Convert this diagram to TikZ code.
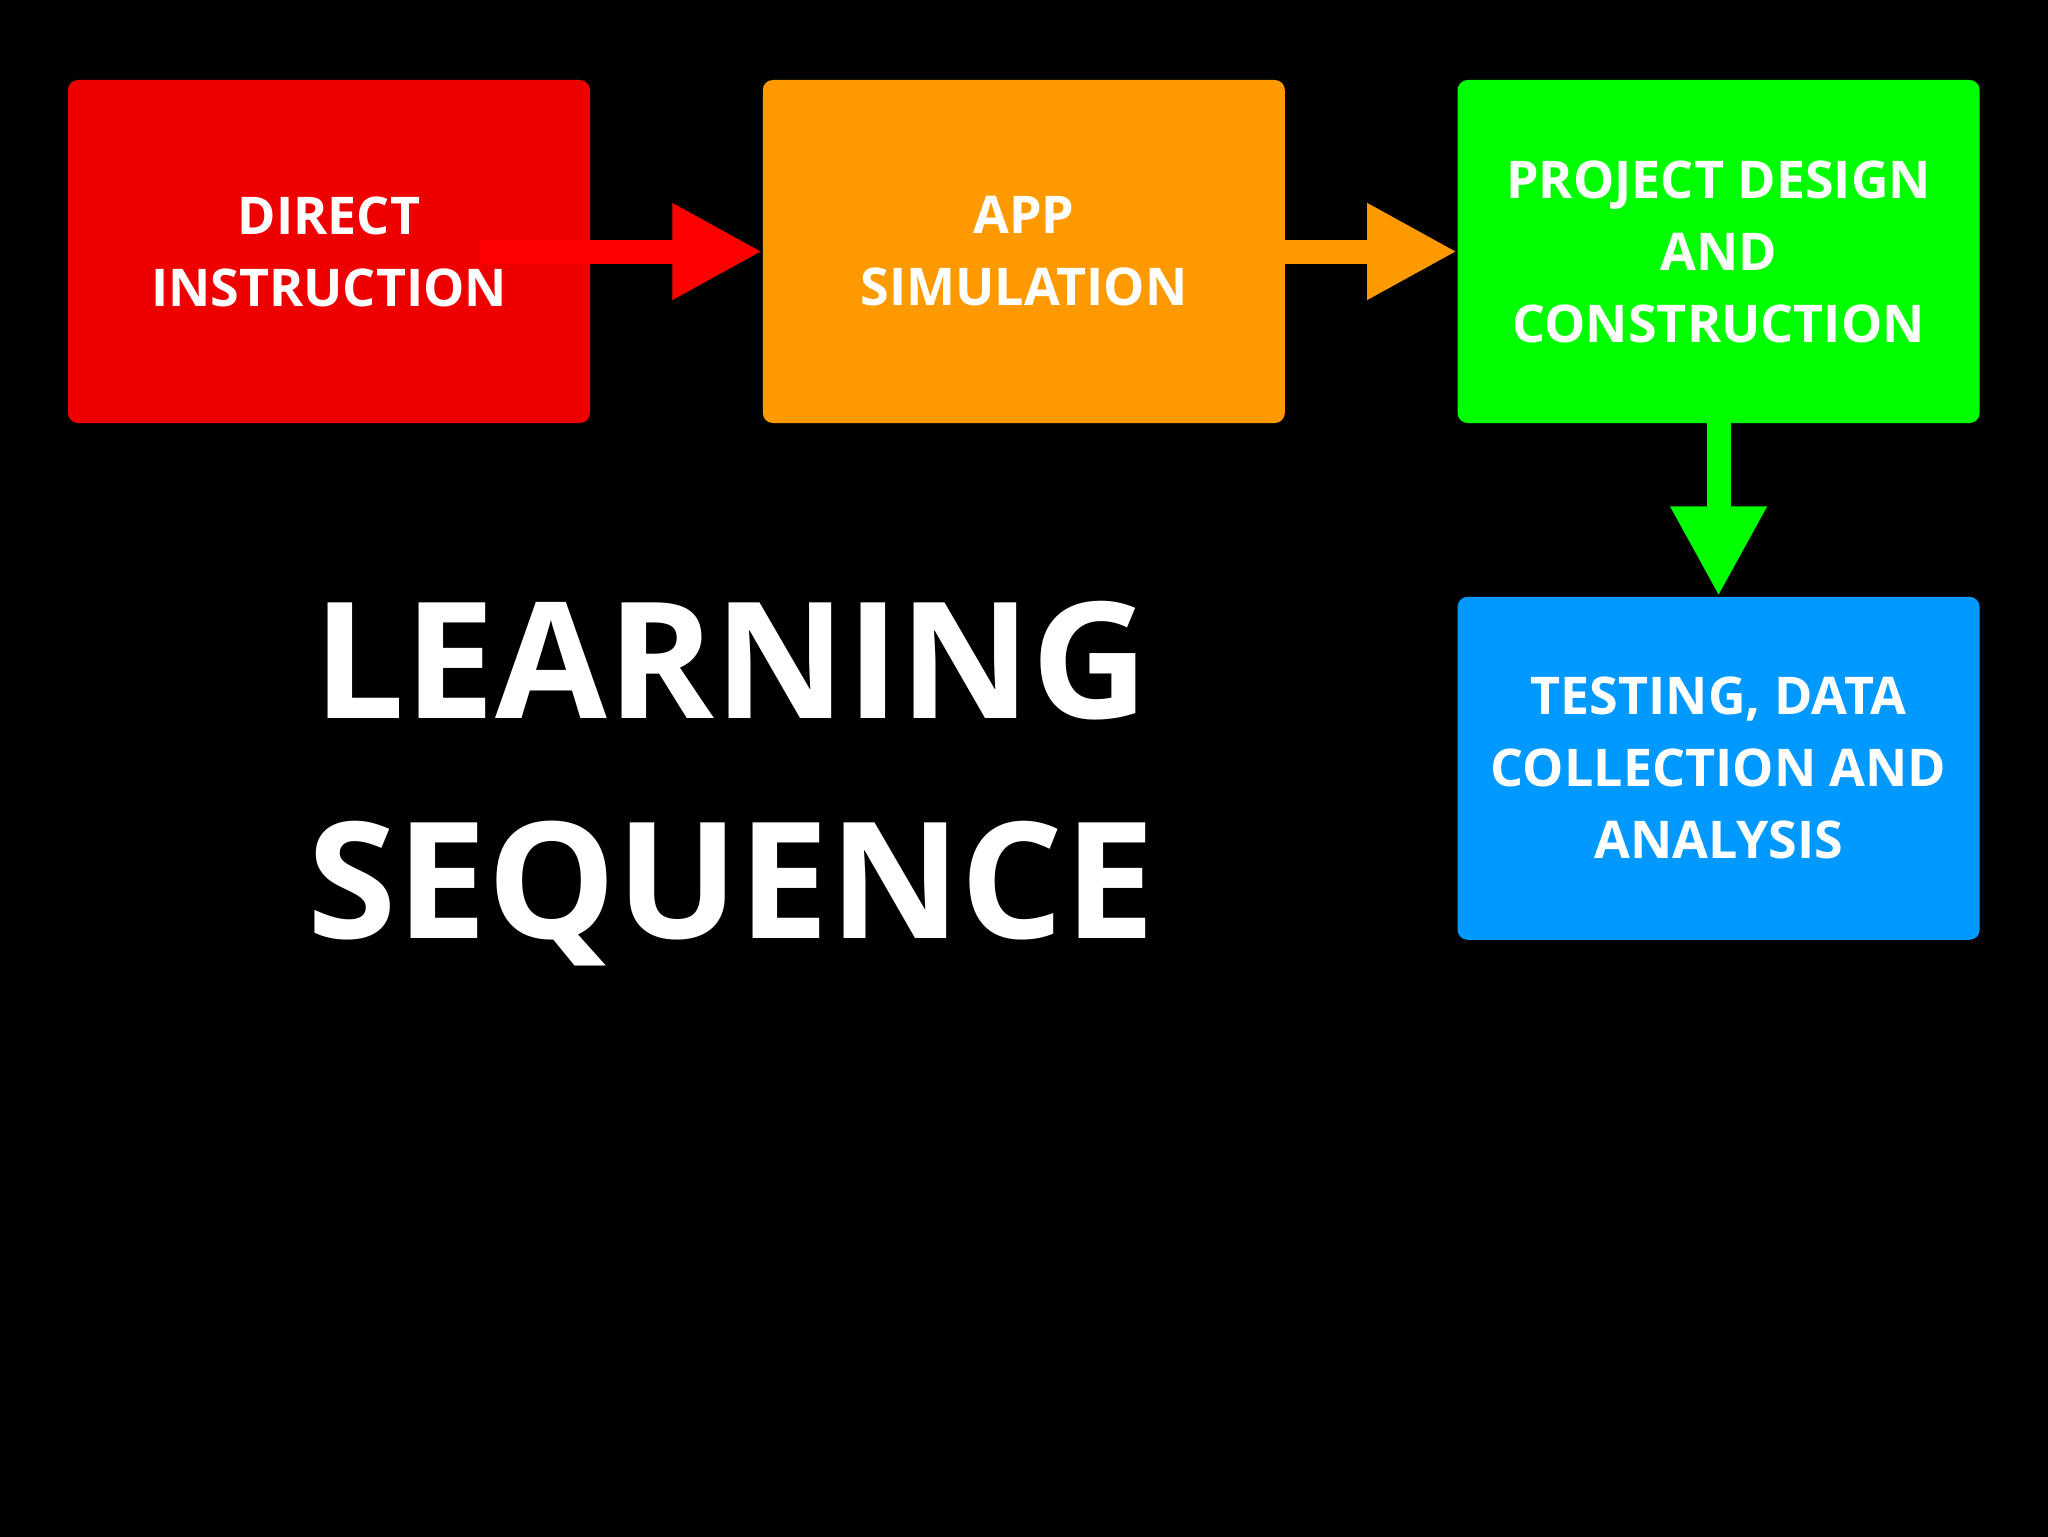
\documentclass[tikz,border=0pt]{standalone}
\usepackage{fontspec}
\setmainfont{Open Sans}
\usepackage{xcolor}
\usepackage{tikz}
\usetikzlibrary{positioning,arrows.meta}

\definecolor{dirred}{HTML}{EE0000}
\definecolor{arrred}{HTML}{FF0000}
\definecolor{apporange}{HTML}{FF9900}
\definecolor{projgreen}{HTML}{00FF00}
\definecolor{testblue}{HTML}{0099FF}

\begin{document}
\begin{tikzpicture}[
    node distance=86.5pt and 86pt,
    box/.style={rounded corners=5pt, minimum width=261pt, minimum height=171.5pt,
                inner sep=0pt, align=center, text=white,
                font=\fontsize{26}{36}\selectfont\bfseries},
    arr/.style={-{Triangle[length=45pt,width=45pt]}, line width=12pt},
  ]
  \useasboundingbox (0,0) rectangle (1024pt,-768pt);
  \fill[black] (-2pt,2pt) rectangle (1026pt,-770pt);

  % the four stages
  \node[box, fill=dirred] (direct) at (164.5pt,-125.75pt) {DIRECT\\INSTRUCTION};
  \node[box, fill=apporange, right=86pt of direct] (appsim) {APP\\SIMULATION};
  \node[box, fill=projgreen, right=86pt of appsim] (project) {PROJECT DESIGN\\AND\\CONSTRUCTION};
  \node[box, fill=testblue, below=86.5pt of project] (testing) {TESTING, DATA\\COLLECTION AND\\ANALYSIS};

  % title
  \node[text=white, align=center, font=\fontsize{81}{110}\selectfont\bfseries]
    (title) at (365.5pt,-392pt) {LEARNING\\SEQUENCE};

  % connectors
  \coordinate (dstart) at ([xshift=75.5pt]direct.center);
  \draw[arr, arrred] (dstart) -- (appsim.west);
  \draw[arr, apporange] (appsim.east) -- (project.west);
  \draw[arr, projgreen] (project.south) -- (testing.north);
\end{tikzpicture}
\end{document}
